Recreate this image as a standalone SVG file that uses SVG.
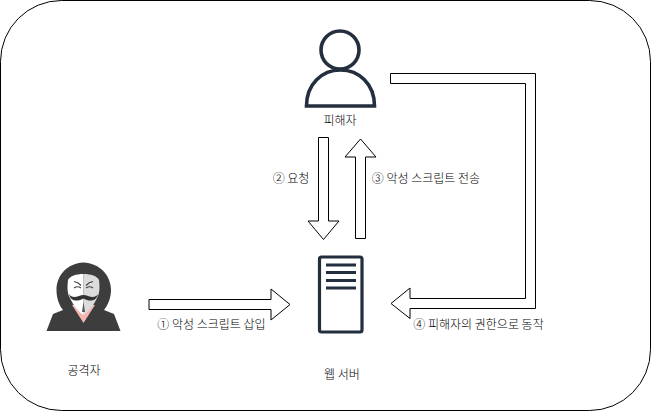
<svg xmlns="http://www.w3.org/2000/svg" width="651" height="411" viewBox="0 0 651 411">
<style>
text{font-family:"Noto Sans CJK KR","Noto Sans",sans-serif;font-size:12px;font-weight:300;fill:#000;text-anchor:middle}
.a{fill:#fff;stroke:#000;stroke-width:1;stroke-miterlimit:10}
.ic{fill:none;stroke:#232f3e;stroke-width:3.600}
.bar{fill:#232f3e}
.m{fill:none;stroke:#444;stroke-width:1.200}
</style>
<rect width="651" height="411" fill="#fff"/>
<rect id="frame" x="0.5" y="0.5" width="650" height="410" rx="61" ry="61" fill="#fff" stroke="#000"/>
<g id="connectors">
<path class="a" d="M149 299.500H271V289L290 304.500L271 320V309.500H149Z"/>
<path class="a" d="M318.500 137.500H328.500V221H339L323.500 239.500L308 221H318.500Z"/>
<path class="a" d="M355.500 238.500H365.500V157H376L360.500 139L345 157H355.500Z"/>
<path class="a" d="M390.500 73.500H535.500V308.500H410V318.500L391 303.500L410 288V298.500H525.500V83.500H390.500Z"/>
</g>
<g id="victim">
<circle class="ic" cx="340" cy="50" r="19"/>
<path class="ic" d="M306.500 106C306.500 84 322 70 340.500 70C359 70 374.500 84 374.500 106Z"/>
<text x="340" y="125">피해자</text>
</g>
<g id="server">
<rect x="319.500" y="257" width="42.500" height="75" rx="2" fill="none" stroke="#232f3e" stroke-width="3.200"/>
<rect class="bar" x="326" y="263.500" width="30" height="3"/>
<rect class="bar" x="326" y="271" width="30" height="3"/>
<rect class="bar" x="326" y="279" width="30" height="3"/>
<rect class="bar" x="326" y="286.500" width="30" height="3"/>
<text x="342" y="379">웹 서버</text>
</g>
<g id="attacker">
<path fill="#3d3d3d" d="M83.500 262.500C99 263 111 275 111 290C111 298 108 305 104 310L114 314L120.500 331H46.500L53 314L63 310C59 305 56.500 298 56.500 290C56.500 275 68 263 83.500 262.500Z"/>
<path fill="#f5b5b0" d="M72 305H95L83.500 323Z"/>
<path fill="#fff" d="M83.500 274C76 274 70 276 68 280C67 288 67.500 294 70 298C73 305 78 311 83.500 315Z"/>
<path fill="#dcdcdc" d="M83.500 274C91 274 97 276 99 280C100 288 99.500 294 97 298C94 305 89 311 83.500 315Z"/>
<path fill="#333" d="M69 294C73 300 79 295 83.500 295C88 295 94 300 98 294C96 303 88 301 83.500 298.500C79 301 71 303 69 294Z"/>
<path class="m" d="M74 281.500Q78 282 81 285.500M93 281.500Q89 282 86 285.500M74 288Q77.500 285.500 81 288M86 288Q89.500 285.500 93 288"/>
<path fill="#555" d="M83.500 302L85 312H82Z"/>
<text x="84" y="375">공격자</text>
</g>
<g id="labels">
<text x="211.500" y="328.500">① 악성 스크립트 삽입</text>
<text x="291" y="183">② 요청</text>
<text x="426" y="183">③ 악성 스크립트 전송</text>
<text x="478.500" y="328.500">④ 피해자의 권한으로 동작</text>
</g>
</svg>
